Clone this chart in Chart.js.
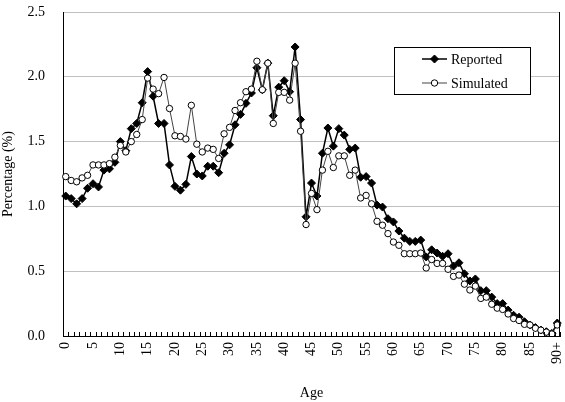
<!DOCTYPE html>
<html>
<head>
<meta charset="utf-8">
<script src="https://cdn.jsdelivr.net/npm/chart.js@4"></script>
<style>
  html, body { margin: 0; padding: 0; background: #fff; }
  #wrap { width: 565px; height: 402px; }
</style>
</head>
<body>
<div id="wrap"><canvas id="chart" width="565" height="402"></canvas></div>
<script>
// ages 0..89 plus the open-ended group
const ages = [];
for (let a = 0; a < 90; a++) ages.push(String(a));
ages.push('90+');

const reported = [
  1.08, 1.06, 1.02, 1.06, 1.14, 1.175, 1.15, 1.28, 1.29, 1.34,
  1.50, 1.43, 1.60, 1.64, 1.80, 2.04, 1.85, 1.64, 1.64, 1.32,
  1.155, 1.125, 1.17, 1.385, 1.25, 1.235, 1.31, 1.31, 1.26, 1.41,
  1.475, 1.63, 1.71, 1.795, 1.875, 2.07, 1.90, 2.105, 1.70, 1.92,
  1.97, 1.885, 2.23, 1.67, 0.92, 1.18, 1.08, 1.41, 1.605, 1.465,
  1.60, 1.55, 1.44, 1.45, 1.225, 1.23, 1.18, 1.01, 0.995, 0.905,
  0.88, 0.81, 0.755, 0.73, 0.73, 0.74, 0.61, 0.665, 0.64, 0.615,
  0.635, 0.54, 0.565, 0.48, 0.425, 0.44, 0.35, 0.35, 0.30, 0.25,
  0.25, 0.20, 0.16, 0.145, 0.11, 0.085, 0.065, 0.046, 0.033, 0.02,
  0.10
];

const simulated = [
  1.23, 1.20, 1.19, 1.22, 1.24, 1.32, 1.32, 1.32, 1.33, 1.38,
  1.47, 1.42, 1.50, 1.555, 1.67, 1.99, 1.905, 1.87, 1.995, 1.755,
  1.545, 1.54, 1.52, 1.78, 1.48, 1.42, 1.45, 1.44, 1.37, 1.56,
  1.61, 1.74, 1.80, 1.885, 1.905, 2.12, 1.90, 2.105, 1.64, 1.88,
  1.88, 1.82, 2.105, 1.58, 0.86, 1.10, 0.975, 1.28, 1.425, 1.30,
  1.39, 1.39, 1.24, 1.28, 1.065, 1.085, 1.02, 0.885, 0.855, 0.79,
  0.725, 0.70, 0.635, 0.635, 0.635, 0.64, 0.525, 0.59, 0.56, 0.56,
  0.515, 0.46, 0.47, 0.40, 0.355, 0.385, 0.29, 0.30, 0.245, 0.215,
  0.205, 0.17, 0.135, 0.12, 0.09, 0.085, 0.06, 0.045, 0.03, 0.015,
  0.085
];

const yTicks = [0, 0.5, 1.0, 1.5, 2.0, 2.5];

const FONT = 'Liberation Serif, Times New Roman, serif';

// small inward tick marks on the category axis + right frame line
const frame = {
  id: 'frame',
  afterDraw(chart) {
    const ctx = chart.ctx;
    const x = chart.scales.x;
    const area = chart.chartArea;
    const w = x.getPixelForValue(1) - x.getPixelForValue(0);
    ctx.save();
    ctx.strokeStyle = '#000';
    ctx.lineWidth = 1;
    ctx.beginPath();
    for (let i = 0; i <= ages.length; i++) {
      const px = Math.round(x.getPixelForValue(i) - w / 2) + 0.5;
      ctx.moveTo(px, area.bottom);
      ctx.lineTo(px, area.bottom - 4);
    }
    ctx.moveTo(area.right - 0.5, area.top);
    ctx.lineTo(area.right - 0.5, area.bottom);
    ctx.stroke();
    ctx.restore();
  }
};

// boxed legend inside the plot
const boxLegend = {
  id: 'boxLegend',
  afterDraw(chart) {
    const ctx = chart.ctx;
    const bx = 394, by = 47, bw = 136, bh = 47;
    ctx.save();
    ctx.fillStyle = '#fff';
    ctx.fillRect(bx, by, bw, bh);
    ctx.strokeStyle = '#000';
    ctx.lineWidth = 1;
    ctx.strokeRect(bx + 0.5, by + 0.5, bw, bh);
    chart.data.datasets.forEach((ds, i) => {
      const cy = by + 12 + i * 24;
      ctx.strokeStyle = ds.borderColor;
      ctx.lineWidth = ds.borderWidth;
      ctx.beginPath();
      ctx.moveTo(bx + 28, cy);
      ctx.lineTo(bx + 53, cy);
      ctx.stroke();
      ctx.fillStyle = ds.pointBackgroundColor;
      ctx.strokeStyle = ds.pointBorderColor;
      ctx.lineWidth = 1;
      Chart.helpers.drawPoint(ctx, {
        pointStyle: ds.pointStyle,
        radius: ds.pointRadius,
        borderWidth: 1
      }, bx + 40.5, cy);
      ctx.fillStyle = '#000';
      ctx.font = '14px ' + FONT;
      ctx.textBaseline = 'middle';
      ctx.fillText(ds.label, bx + 57, cy + 1);
    });
    ctx.restore();
  }
};

new Chart(document.getElementById('chart'), {
  type: 'line',
  data: {
    labels: ages,
    datasets: [
      {
        label: 'Reported',
        data: reported,
        borderColor: '#000',
        borderWidth: 1.5,
        pointStyle: 'rectRot',
        pointRadius: 4,
        pointBackgroundColor: '#000',
        pointBorderColor: '#000',
        pointBorderWidth: 1,
        tension: 0,
        order: 2
      },
      {
        label: 'Simulated',
        data: simulated,
        borderColor: '#444',
        borderWidth: 1,
        pointStyle: 'circle',
        pointRadius: 3.2,
        pointBackgroundColor: '#fff',
        pointBorderColor: '#000',
        pointBorderWidth: 1,
        tension: 0,
        order: 1
      }
    ]
  },
  options: {
    responsive: false,
    animation: false,
    layout: { padding: { top: 12, right: 2, left: 0, bottom: 0 } },
    plugins: {
      legend: { display: false },
      tooltip: { enabled: false }
    },
    scales: {
      x: {
        offset: true,
        grid: { display: false, drawTicks: false },
        border: { color: '#000', width: 1 },
        ticks: {
          autoSkip: false,
          minRotation: 90,
          maxRotation: 90,
          padding: 6,
          color: '#000',
          font: { family: FONT, size: 14 },
          callback: (v, i) => (i % 5 === 0 || i === ages.length - 1) ? ages[i] : ''
        },
        title: {
          display: true,
          text: 'Age',
          color: '#000',
          font: { family: FONT, size: 14 },
          padding: { top: 8, bottom: 0 }
        },
        afterFit: s => {
          s.height = 66;
          s.paddingLeft = 0;
          s.paddingRight = 0;
        }
      },
      y: {
        min: 0,
        max: 2.5,
        afterBuildTicks: s => { s.ticks = yTicks.map(v => ({ value: v })); },
        grid: { color: '#c0c0c0', lineWidth: 1, drawTicks: false },
        border: { color: '#000', width: 1 },
        ticks: {
          padding: 18,
          color: '#000',
          font: { family: FONT, size: 14 },
          callback: v => Number(v).toFixed(1)
        },
        title: {
          display: true,
          text: 'Percentage (%)',
          color: '#000',
          font: { family: FONT, size: 14 },
          padding: { top: 0, bottom: 0 }
        },
        afterFit: s => {
          s.width = 63;
          s.paddingTop = 0;
          s.paddingBottom = 0;
        }
      }
    }
  },
  plugins: [frame, boxLegend]
});
</script>
</body>
</html>
